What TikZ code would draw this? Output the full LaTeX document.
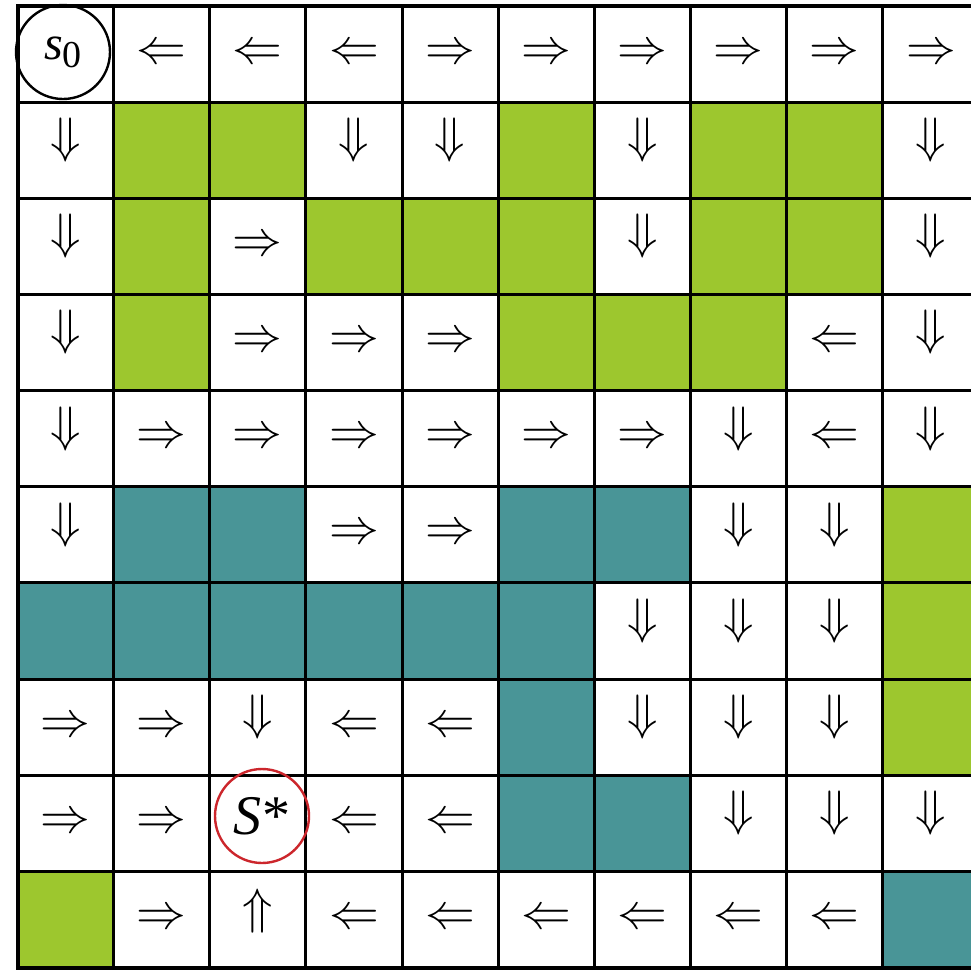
\documentclass[tikz,border=0pt]{standalone}
\usepackage{fontspec}
\newfontfamily\tnr{Liberation Serif}
\definecolor{wallgreen}{RGB}{157,199,46}
\definecolor{wallteal}{RGB}{73,149,151}
\definecolor{goalred}{RGB}{204,38,44}
\newcommand\cellL{$\Leftarrow$}
\newcommand\cellR{$\Rightarrow$}
\newcommand\cellD{$\Downarrow$}
\newcommand\cellU{$\Uparrow$}
\newcommand\cellG{}
\newcommand\cellT{}
\newcommand\cellA{}
\newcommand\cellS{}
\tikzset{
  cellbox/.style={rectangle, minimum width=48.075pt, minimum height=48.075pt,
    inner sep=0pt, outer sep=0pt, font=\fontsize{25}{30}\selectfont},
  kindL/.style={}, kindR/.style={},
  kindD/.style={yshift=5pt}, kindU/.style={yshift=4pt},
  kindG/.style={fill=wallgreen}, kindT/.style={fill=wallteal},
  kindA/.style={}, kindS/.style={},
  gridline/.style={line width=1.5pt, black},
  marker/.style={circle, draw, line width=1.2pt, minimum size=47pt, inner sep=0pt},
}
\begin{document}
\begin{tikzpicture}[x=0.5pt,y=-0.5pt]
\useasboundingbox (0,0) rectangle (971,971);
\clip (0,0) rectangle (971,971);
\fill[white] (0,0) rectangle (971,971);
\foreach \rowlist [count=\r] in {
  {A,L,L,L,R,R,R,R,R,R},
  {D,G,G,D,D,G,D,G,G,D},
  {D,G,R,G,G,G,D,G,G,D},
  {D,G,R,R,R,G,G,G,L,D},
  {D,R,R,R,R,R,R,D,L,D},
  {D,T,T,R,R,T,T,D,D,G},
  {T,T,T,T,T,T,D,D,D,G},
  {R,R,D,L,L,T,D,D,D,G},
  {R,R,S,L,L,T,T,D,D,D},
  {G,R,U,L,L,L,L,L,L,T}}{
  \foreach \k [count=\c] in \rowlist {
    \node[cellbox, kind\k] (c-\r-\c) at ({17.5+96.15*(\c-0.5)},{6+96.15*(\r-0.5)}) {\csname cell\k\endcsname};
  }
}
\foreach \i in {0,...,10} {
  \draw[gridline] ({17.5+96.15*\i},6) -- ({17.5+96.15*\i},967.5);
  \draw[gridline] (17.5,{6+96.15*\i}) -- (1000,{6+96.15*\i});
}
\draw[line width=2pt] (17.5,6) rectangle (1000,967.5);
\node[marker, draw=black] (s0) at (63,52)
  {\tnr\fontsize{24}{28}\selectfont\itshape s\raisebox{-4pt}{\upshape\fontsize{19}{22}\selectfont 0}};
\node[marker, draw=goalred] (goal) at (262,816)
  {\tnr\fontsize{28}{32}\selectfont{\itshape S}\kern0.5pt*};
\end{tikzpicture}
\end{document}
